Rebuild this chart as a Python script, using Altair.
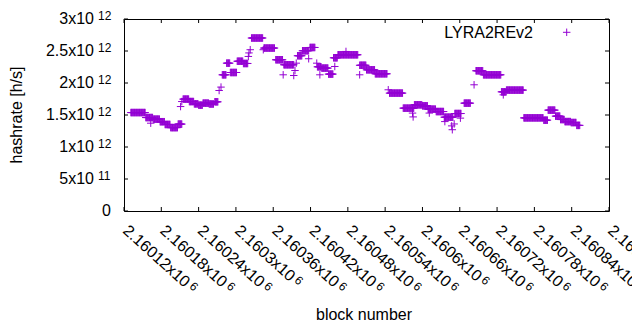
import altair as alt
import pandas as pd

# ---------------- data ----------------
BLOCK0 = 2160000
# runs of consecutive blocks that share one hashrate estimate (block offsets from BLOCK0, hashrate in 1e12 h/s)
seg_start = [131, 155, 167, 178, 186, 195, 207, 215, 225, 233,
             240, 247, 257, 266, 278, 285, 291, 302, 312, 325,
             345, 364, 377, 399, 407, 419, 431, 438, 449, 457,
             464, 499, 510, 524, 547, 569, 587, 600, 609, 622,
             635, 652, 667, 686, 698, 727, 735, 763, 795, 802,
             814, 822, 829, 839, 848]
seg_end = [154, 166, 177, 185, 194, 206, 213, 224, 232, 239,
           246, 256, 264, 271, 284, 290, 301, 311, 319, 343,
           362, 375, 393, 406, 417, 427, 437, 448, 456, 463,
           496, 509, 523, 543, 568, 586, 599, 608, 621, 634,
           649, 662, 677, 697, 726, 734, 762, 794, 801, 813,
           821, 828, 838, 847, 853]
seg_hashrate = [1.538, 1.460, 1.435, 1.395, 1.352, 1.303, 1.358, 1.748, 1.710, 1.674,
                1.654, 1.685, 1.672, 1.706, 2.128, 2.310, 2.164, 2.340, 2.305, 2.703,
                2.546, 2.363, 2.285, 2.426, 2.504, 2.555, 2.253, 2.233, 2.139, 2.394,
                2.441, 2.277, 2.206, 2.144, 1.842, 1.607, 1.659, 1.643, 1.591, 1.554,
                1.466, 1.523, 1.685, 2.191, 2.128, 1.862, 1.889, 1.455, 1.419, 1.576,
                1.482, 1.429, 1.397, 1.382, 1.338]
# single scattered blocks
pt_block = [163, 211, 213, 273, 276, 320, 321, 323, 344, 376, 393, 395, 397, 417,
            430, 435, 459, 477, 499, 545, 584, 585, 611, 636, 647, 648, 651, 661,
            683, 730]
pt_hashrate = [1.372, 1.632, 1.710, 1.883, 1.936, 2.415, 2.470, 2.520, 2.520, 2.128,
               2.117, 2.195, 2.310, 2.379, 2.310, 2.128, 2.258, 2.493, 2.128, 1.894,
               1.530, 1.470, 1.530, 1.397, 1.330, 1.270, 1.360, 1.451, 1.972, 1.815]

x_ticks = [2160120, 2160180, 2160240, 2160300, 2160360, 2160420, 2160480,
           2160540, 2160600, 2160660, 2160720, 2160780, 2160840, 2160900]
x_tick_mant = ["2.16012x10", "2.16018x10", "2.16024x10", "2.1603x10", "2.16036x10",
               "2.16042x10", "2.16048x10", "2.16054x10", "2.1606x10", "2.16066x10",
               "2.16072x10", "2.16078x10", "2.16084x10", "2.1609x10"]
x_tick_exp = ["6"] * 14

y_ticks = [0, 5e11, 1e12, 1.5e12, 2e12, 2.5e12, 3e12]
y_tick_mant = ["0", "5x10", "1x10", "1.5x10", "2x10", "2.5x10", "3x10"]
y_tick_exp = ["", "11", "12", "12", "12", "12", "12"]

SERIES = "LYRA2REv2"
X_TITLE = "block number"
Y_TITLE = "hashrate [h/s]"

# ---------------- tables ----------------
rows = []
for s, e, v in zip(seg_start, seg_end, seg_hashrate):
    for b in range(s, e + 1):
        rows.append({"block": BLOCK0 + b, "hashrate": v * 1e12})
for b, v in zip(pt_block, pt_hashrate):
    rows.append({"block": BLOCK0 + b, "hashrate": v * 1e12})
df = pd.DataFrame(rows)

xt = pd.DataFrame({"tick": x_ticks, "mant": x_tick_mant, "exp": x_tick_exp})
xt["long"] = xt["mant"].str.len() > 9
yt = pd.DataFrame({"tick": y_ticks, "mant": y_tick_mant, "exp": y_tick_exp})

W, H = 485, 192
FONT = "Liberation Sans"
PURPLE = "#9400D3"
PLUS = "M-1,0L1,0M0,-1L0,1"

xs = alt.Scale(domain=[2160120, 2160900], nice=False, zero=False)
ys = alt.Scale(domain=[0, 3e12], nice=False, zero=False)

X = lambda f: alt.X(f, type="quantitative", scale=xs, axis=None)
Y = lambda f: alt.Y(f, type="quantitative", scale=ys, axis=None)

points = alt.Chart(df).mark_point(
    shape=PLUS, size=56, filled=False, color=PURPLE, strokeWidth=1, opacity=1
).encode(x=X("block"), y=Y("hashrate"))

# inward ticks on all four sides
xtb = alt.Chart(xt).mark_rule(color="black", strokeWidth=1).encode(
    x=X("tick"), y=alt.value(H), y2=alt.value(H - 4))
xtt = alt.Chart(xt).mark_rule(color="black", strokeWidth=1).encode(
    x=X("tick"), y=alt.value(0), y2=alt.value(4))
ytl = alt.Chart(yt).mark_rule(color="black", strokeWidth=1).encode(
    y=Y("tick"), x=alt.value(0), x2=alt.value(4))
ytr = alt.Chart(yt).mark_rule(color="black", strokeWidth=1).encode(
    y=Y("tick"), x=alt.value(W), x2=alt.value(W - 4))

# y tick labels (mantissa + superscript exponent)
ylab = alt.Chart(yt).transform_filter("datum.tick > 0").mark_text(
    font=FONT, fontSize=16, align="right", baseline="alphabetic", dy=5, color="black"
).encode(y=Y("tick"), x=alt.value(-30), text="mant:N")
yexp = alt.Chart(yt).transform_filter("datum.tick > 0").mark_text(
    font=FONT, fontSize=12, align="left", baseline="alphabetic", dy=1, color="black"
).encode(y=Y("tick"), x=alt.value(-26), text="exp:N")
yzero = alt.Chart(yt).transform_filter("datum.tick == 0").mark_text(
    font=FONT, fontSize=16, align="right", baseline="alphabetic", dy=5, color="black"
).encode(y=Y("tick"), x=alt.value(-13), text="mant:N")

# x tick labels, rotated
xlab = alt.Chart(xt).mark_text(
    font=FONT, fontSize=16, align="left", baseline="alphabetic", angle=42,
    dx=-1.4, dy=1.4, color="black"
).encode(x=X("tick"), y=alt.value(H + 21), text="mant:N")
xexp_long = alt.Chart(xt).transform_filter("datum.long").mark_text(
    font=FONT, fontSize=12, align="left", baseline="alphabetic", angle=42,
    dx=85, dy=-2.2, color="black"
).encode(x=X("tick"), y=alt.value(H + 21), text="exp:N")
xexp_short = alt.Chart(xt).transform_filter("!datum.long").mark_text(
    font=FONT, fontSize=12, align="left", baseline="alphabetic", angle=42,
    dx=76, dy=-2.2, color="black"
).encode(x=X("tick"), y=alt.value(H + 21), text="exp:N")

# axis titles
title_df = pd.DataFrame({"xt": [X_TITLE], "yt": [Y_TITLE], "s": [SERIES]})
xtitle = alt.Chart(title_df).mark_text(
    font=FONT, fontSize=16, align="center", baseline="alphabetic", color="black"
).encode(x=alt.value(240), y=alt.value(301), text="xt:N")
ytitle = alt.Chart(title_df).mark_text(
    font=FONT, fontSize=16, align="center", baseline="middle", angle=270, color="black"
).encode(x=alt.value(-107), y=alt.value(96), text="yt:N")

# key
key_text = alt.Chart(title_df).mark_text(
    font=FONT, fontSize=16, align="right", baseline="alphabetic", color="black"
).encode(x=alt.value(409), y=alt.value(18.7), text="s:N")
key_mark = alt.Chart(title_df).mark_point(
    shape=PLUS, size=56, filled=False, color=PURPLE, strokeWidth=1, opacity=1
).encode(x=alt.value(442.7), y=alt.value(13.3))

chart = alt.layer(
    points, xtb, xtt, ytl, ytr, ylab, yexp, yzero, xlab, xexp_long, xexp_short,
    xtitle, ytitle, key_text, key_mark
).properties(
    width=W, height=H,
    autosize=alt.AutoSizeParams(type="none"),
    padding={"left": 116, "top": 11, "right": 23, "bottom": 111},
    background="white",
).configure_view(stroke="black", strokeWidth=1)

chart.save("out.html", embed_options={"renderer": "svg", "actions": False})
